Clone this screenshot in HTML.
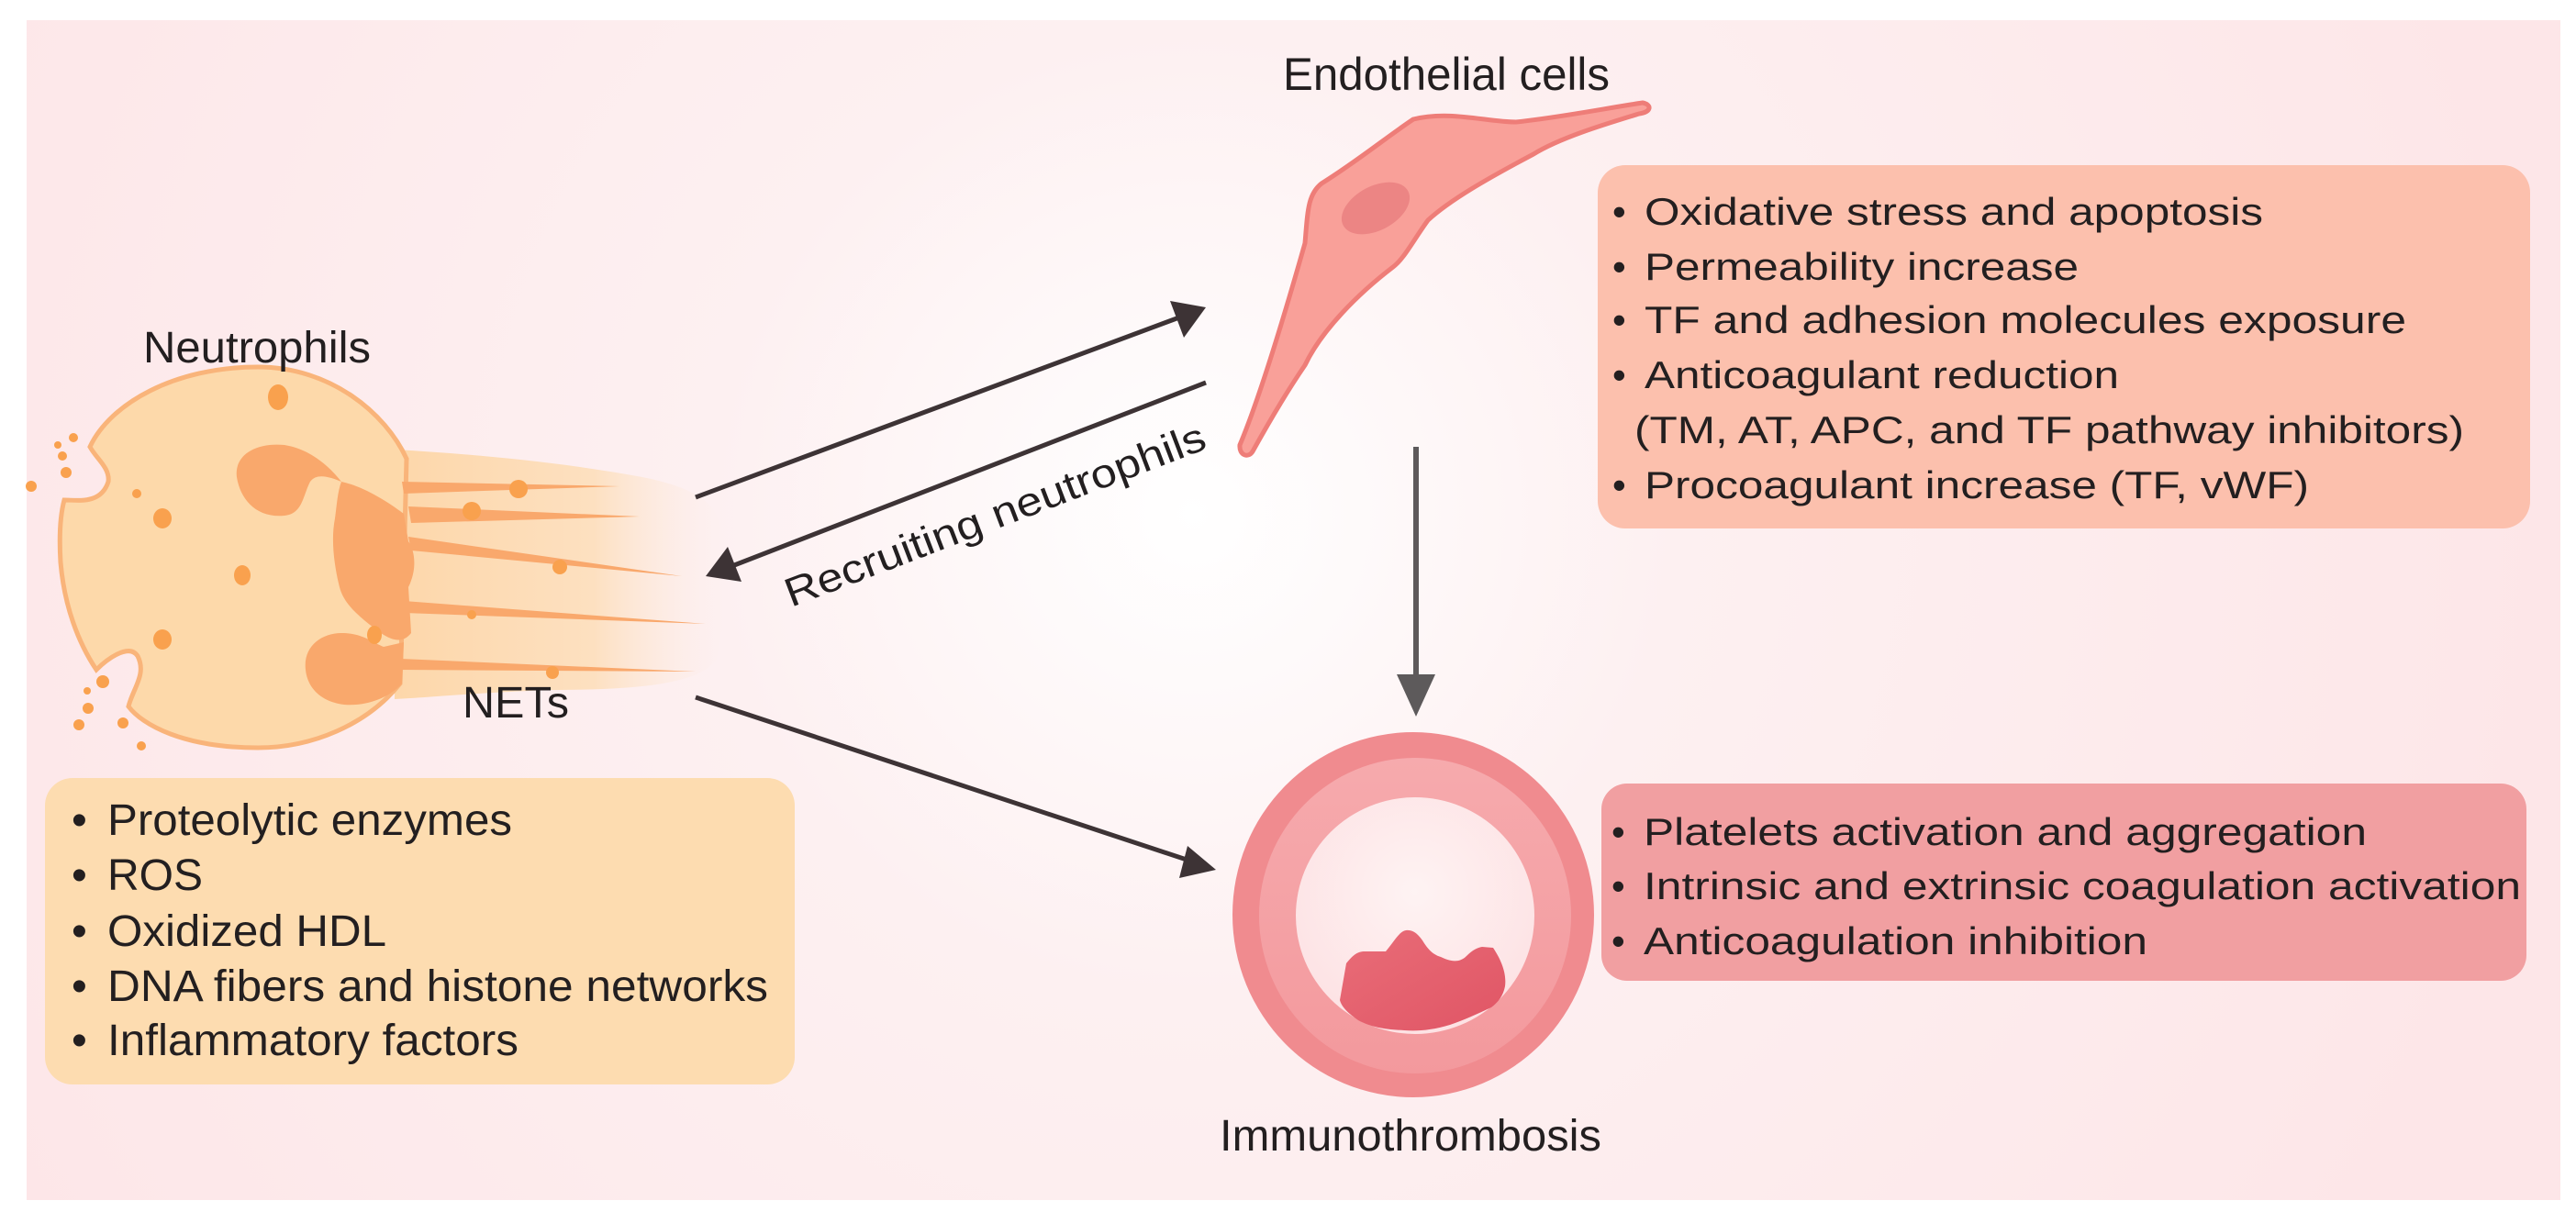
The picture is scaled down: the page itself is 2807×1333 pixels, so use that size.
<!DOCTYPE html>
<html><head><meta charset="utf-8"><style>
html,body{margin:0;padding:0;background:#fff;}
svg{display:block;}
text{font-family:"Liberation Sans",Arial,sans-serif;fill:#231f20;}
</style></head><body>
<svg width="2807" height="1333" viewBox="0 0 2807 1333" xmlns="http://www.w3.org/2000/svg">
<defs>
<radialGradient id="bg" cx="1300" cy="560" r="1500" gradientUnits="userSpaceOnUse">
<stop offset="0" stop-color="#ffffff"/><stop offset="0.35" stop-color="#fdf0f1"/><stop offset="1" stop-color="#fde6e8"/>
</radialGradient>
<linearGradient id="net" x1="0" y1="0" x2="1" y2="0">
<stop offset="0" stop-color="#fdd7aa"/><stop offset="0.6" stop-color="#fde0c0"/><stop offset="1" stop-color="#fdeee8" stop-opacity="0"/>
</linearGradient>
<radialGradient id="inner" cx="0.5" cy="0.4" r="0.6">
<stop offset="0" stop-color="#fef3f3"/><stop offset="1" stop-color="#fde2e4"/>
</radialGradient>
<linearGradient id="clot" x1="0" y1="0" x2="1" y2="1">
<stop offset="0" stop-color="#e96d78"/><stop offset="1" stop-color="#e05565"/>
</linearGradient>
<linearGradient id="mid" x1="0" y1="0" x2="0" y2="1">
<stop offset="0" stop-color="#f6aaad"/><stop offset="1" stop-color="#f3999d"/>
</linearGradient>
</defs>
<rect x="29" y="22" width="2761" height="1286" fill="url(#bg)"/>

<!-- NET band -->
<path d="M430,490 C520,495 620,505 700,520 C740,528 770,540 780,560 C800,600 790,680 780,720 C760,745 700,752 600,752 C520,755 470,760 430,762 Z" fill="url(#net)"/>
<!-- Neutrophil body -->
<path d="M98,487 C120,440 190,400 281,400 C360,400 420,450 443,500 L440,620 L436,745 C400,790 340,815 281,815 C200,815 155,790 140,770 C145,750 160,735 150,715 C140,700 115,720 105,730 C85,700 70,660 66,613 C64,580 66,560 70,545 C85,545 110,550 118,525 C120,510 105,500 98,487 Z" fill="#fdd9aa" stroke="#f9b47a" stroke-width="5"/>
<!-- nucleus -->
<g fill="#f9a86c">
<path d="M258,520 C255,495 280,482 310,485 C340,490 360,510 372,525 C360,520 345,515 338,525 C330,540 330,560 310,562 C280,565 262,545 258,520 Z"/>
<path d="M372,525 C395,530 420,545 440,560 L445,590 C452,600 455,620 445,640 L448,690 C440,700 430,700 415,690 C395,675 375,660 370,640 C365,620 360,590 365,565 C367,550 368,535 372,525 Z"/>
<path d="M333,730 C330,705 350,690 372,690 C395,690 405,700 418,705 L440,700 L438,745 C425,760 400,770 375,768 C350,765 335,750 333,730 Z"/>
<path d="M438,525 L675,530 L440,538 Z"/>
<path d="M445,552 L697,563 L448,570 Z"/>
<path d="M445,585 L743,628 L448,600 Z"/>
<path d="M440,655 L769,680 L440,668 Z"/>
<path d="M436,718 L758,732 L436,730 Z"/>
</g>
<g fill="#f9a14e">
<ellipse cx="303" cy="433" rx="11" ry="14"/><ellipse cx="177" cy="565" rx="10" ry="11"/><ellipse cx="264" cy="627" rx="9" ry="11"/>
<ellipse cx="177" cy="697" rx="10" ry="11"/><ellipse cx="408" cy="692" rx="8" ry="10"/><circle cx="149" cy="538" r="5"/>
<circle cx="565" cy="533" r="10"/><circle cx="514" cy="557" r="10"/><circle cx="610" cy="618" r="8"/><circle cx="514" cy="670" r="5"/><circle cx="602" cy="733" r="7"/>
<circle cx="34" cy="530" r="6"/><circle cx="72" cy="515" r="6"/><circle cx="68" cy="497" r="5"/><circle cx="63" cy="485" r="4"/><circle cx="80" cy="477" r="5"/>
<circle cx="112" cy="743" r="7"/><circle cx="95" cy="753" r="4"/><circle cx="96" cy="772" r="6"/><circle cx="86" cy="790" r="6"/><circle cx="134" cy="788" r="6"/><circle cx="154" cy="813" r="5"/>
</g>
<text x="156" y="395" font-size="48" textLength="248" lengthAdjust="spacingAndGlyphs">Neutrophils</text>
<text x="504" y="782" font-size="48" textLength="116" lengthAdjust="spacingAndGlyphs">NETs</text>

<!-- arrows -->
<g stroke="#3d3335" stroke-width="5" fill="#3d3335">
<line x1="758" y1="542" x2="1285" y2="346"/>
<polygon points="1314,335 1275,328 1290,368" stroke="none"/>
<line x1="1314" y1="417" x2="795" y2="618"/>
<polygon points="769,628 808,634 793,596" stroke="none"/>
<line x1="758" y1="760" x2="1296" y2="938"/>
<polygon points="1325,948 1294,922 1285,957" stroke="none"/>
</g>
<text font-size="44" transform="translate(862,662) rotate(-20.9)" textLength="487" lengthAdjust="spacingAndGlyphs">Recruiting neutrophils</text>

<!-- endothelial cell -->
<path d="M1351,485 C1370,440 1395,360 1422,265 C1425,230 1425,212 1440,200 C1480,175 1510,150 1540,130 C1580,120 1620,133 1652,133 C1700,128 1750,118 1790,112 C1800,114 1800,122 1786,124 C1750,135 1700,150 1671,168 C1620,195 1580,218 1556,240 C1540,262 1530,282 1518,291 C1480,320 1440,360 1422,398 C1400,430 1380,465 1365,492 C1360,500 1350,496 1351,485 Z" fill="#f9a099" stroke="#ee7d78" stroke-width="5"/>
<ellipse cx="1499" cy="227" rx="40" ry="24" transform="rotate(-28 1499 227)" fill="#ec8584"/>
<text x="1398" y="98" font-size="50" textLength="356" lengthAdjust="spacingAndGlyphs">Endothelial cells</text>

<!-- down arrow -->
<line x1="1543" y1="487" x2="1543" y2="745" stroke="#5d5a5b" stroke-width="6"/>
<polygon points="1522,735 1564,735 1543,781" fill="#5d5a5b"/>

<!-- vessel -->
<ellipse cx="1540" cy="997" rx="197" ry="199" fill="#f08b8f"/>
<ellipse cx="1542" cy="998" rx="170" ry="172" fill="url(#mid)"/>
<ellipse cx="1542" cy="998" rx="130" ry="129" fill="url(#inner)"/>
<path d="M1460,1090 L1467,1050 C1475,1040 1480,1037 1487,1037 L1510,1037 C1520,1025 1525,1015 1532,1014 C1540,1013 1545,1018 1550,1025 C1555,1033 1560,1040 1570,1043 C1580,1048 1590,1050 1598,1042 C1605,1035 1610,1033 1615,1032 L1627,1033 C1635,1045 1642,1060 1640,1075 C1638,1085 1633,1092 1625,1098 C1610,1105 1595,1112 1580,1117 C1560,1123 1545,1124 1530,1123 C1510,1122 1495,1120 1480,1112 C1470,1105 1462,1098 1460,1090 Z" fill="url(#clot)"/>
<text x="1329" y="1254" font-size="48" textLength="416" lengthAdjust="spacingAndGlyphs">Immunothrombosis</text>

<!-- left box -->
<rect x="49" y="848" width="817" height="334" rx="30" fill="#fddcb0"/>
<g font-size="48">
<text x="78" y="910">•</text><text x="117" y="910" textLength="441" lengthAdjust="spacingAndGlyphs">Proteolytic enzymes</text>
<text x="78" y="970">•</text><text x="117" y="970" textLength="104" lengthAdjust="spacingAndGlyphs">ROS</text>
<text x="78" y="1031">•</text><text x="117" y="1031" textLength="304" lengthAdjust="spacingAndGlyphs">Oxidized HDL</text>
<text x="78" y="1091">•</text><text x="117" y="1091" textLength="720" lengthAdjust="spacingAndGlyphs">DNA fibers and histone networks</text>
<text x="78" y="1150">•</text><text x="117" y="1150" textLength="448" lengthAdjust="spacingAndGlyphs">Inflammatory factors</text>
</g>

<!-- top right box -->
<rect x="1741" y="180" width="1016" height="396" rx="30" fill="#fcc0ad"/>
<g font-size="42">
<text x="1757" y="245">•</text><text x="1792" y="245" textLength="674" lengthAdjust="spacingAndGlyphs">Oxidative stress and apoptosis</text>
<text x="1757" y="305">•</text><text x="1792" y="305" textLength="473" lengthAdjust="spacingAndGlyphs">Permeability increase</text>
<text x="1757" y="363">•</text><text x="1792" y="363" textLength="830" lengthAdjust="spacingAndGlyphs">TF and adhesion molecules exposure</text>
<text x="1757" y="423">•</text><text x="1792" y="423" textLength="517" lengthAdjust="spacingAndGlyphs">Anticoagulant reduction</text>
<text x="1781" y="483" textLength="904" lengthAdjust="spacingAndGlyphs">(TM, AT, APC, and TF pathway inhibitors)</text>
<text x="1757" y="543">•</text><text x="1792" y="543" textLength="724" lengthAdjust="spacingAndGlyphs">Procoagulant increase (TF, vWF)</text>
</g>

<!-- bottom right box -->
<rect x="1745" y="854" width="1008" height="215" rx="28" fill="#f19fa1"/>
<g font-size="42">
<text x="1756" y="921">•</text><text x="1791" y="921" textLength="788" lengthAdjust="spacingAndGlyphs">Platelets activation and aggregation</text>
<text x="1756" y="980">•</text><text x="1791" y="980" textLength="956" lengthAdjust="spacingAndGlyphs">Intrinsic and extrinsic coagulation activation</text>
<text x="1756" y="1040">•</text><text x="1791" y="1040" textLength="549" lengthAdjust="spacingAndGlyphs">Anticoagulation inhibition</text>
</g>
</svg>
</body></html>
